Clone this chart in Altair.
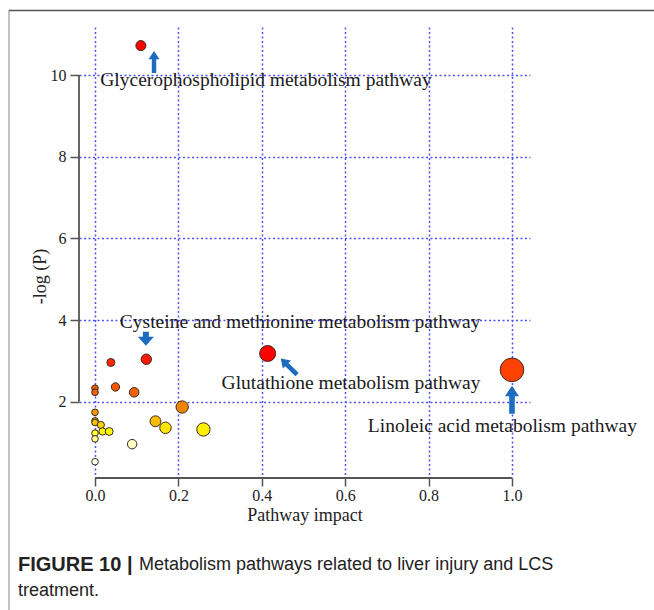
import altair as alt
import pandas as pd

# ---- data ----
impact = [0.0, 0.0, 0.0, 0.0, 0.0, 0.0, 0.0, 0.0, 0.014, 0.018, 0.034, 0.038,
          0.049, 0.094, 0.089, 0.123, 0.145, 0.169, 0.209, 0.260, 0.414, 1.0, 0.110]
neglogp = [2.33, 2.23, 1.74, 1.53, 1.49, 1.23, 1.09, 0.53, 1.43, 1.27, 1.27, 2.96,
           2.36, 2.23, 0.96, 3.04, 1.52, 1.36, 1.87, 1.32, 3.18, 2.78, 10.72]

x_ticks = [0.0, 0.2, 0.4, 0.6, 0.8, 1.0]
y_ticks = [2, 4, 6, 8, 10]

labels = ["Glycerophospholipid metabolism pathway",
          "Cysteine and methionine metabolism pathway",
          "Glutathione metabolism pathway",
          "Linoleic acid metabolism pathway"]
label_x = [0.410, 0.492, 0.614, 0.977]
label_y = [9.88, 3.96, 2.46, 1.40]

# arrow anchor points (data coordinates): glycero, cysteine, glutathione, linoleic
arrow_x = [0.1415, 0.122, 0.465, 1.0]
arrow_y = [10.32, 3.54, 2.86, 2.05]

caption_bold = "FIGURE 10 |"
caption_line1 = "Metabolism pathways related to liver injury and LCS"
caption_line2 = "treatment."

x_title = "Pathway impact"
y_title = "-log (P)"

# ---- chart ----
W, H = 451, 451
xs = alt.Scale(domain=[-0.0384, 1.0432], nice=False, zero=False)
ys = alt.Scale(domain=[0.131, 11.176], nice=False, zero=False)

SERIF = "Liberation Serif"
SANS = "Liberation Sans"
BLUE = "#1d6cc0"

points_df = pd.DataFrame({"impact": impact, "neglogp": neglogp})

base_x = alt.X("impact:Q", scale=xs, title=x_title,
               axis=alt.Axis(values=x_ticks, format=".1f", domain=False, grid=True,
                             gridColor="#4f4fff", gridDash=[2, 2.5], gridWidth=1.5,
                             tickColor="#555", tickSize=8, tickWidth=1.5,
                             labelFont=SERIF, labelFontSize=16, labelColor="#222",
                             labelPadding=1, titleFont=SERIF, titleFontSize=18,
                             titleFontWeight="normal", titleColor="#222",
                             titleBaseline="middle", titleY=37))
base_y = alt.Y("neglogp:Q", scale=ys, title=y_title,
               axis=alt.Axis(values=y_ticks, format="d", domain=False, grid=True,
                             gridColor="#4f4fff", gridDash=[2, 2.5], gridWidth=1.5,
                             tickColor="#555", tickSize=9, tickWidth=1.5,
                             labelFont=SERIF, labelFontSize=16, labelColor="#222",
                             labelPadding=4, titleFont=SERIF, titleFontSize=18,
                             titleFontWeight="normal", titleColor="#222",
                             titleAngle=270, titleAlign="center", titleBaseline="middle",
                             titleX=-39, titleY=249))

points = alt.Chart(points_df).mark_circle(
    opacity=1, stroke="#3a2a20", strokeWidth=1
).encode(
    x=base_x,
    y=base_y,
    size=alt.Size("impact:Q", scale=alt.Scale(domain=[0, 1], range=[44, 557]), legend=None),
    color=alt.Color("neglogp:Q",
                    scale=alt.Scale(domain=[0.5, 1.0, 1.26, 1.55, 1.9, 2.3, 2.8, 3.1],
                                    range=["#fffff4", "#ffffc0", "#ffff00", "#f5b400",
                                           "#f08000", "#f05a00", "#ff4000", "#ff0000"],
                                    clamp=True),
                    legend=None),
)

# axis lines limited to the tick range
xline = alt.Chart(pd.DataFrame({"a": [x_ticks[0]], "b": [x_ticks[-1]]})).mark_rule(
    color="#555", strokeWidth=1.8
).encode(x=alt.X("a:Q", scale=xs), x2="b:Q", y=alt.value(H))
yline = alt.Chart(pd.DataFrame({"a": [y_ticks[0]], "b": [y_ticks[-1]]})).mark_rule(
    color="#555", strokeWidth=1.8
).encode(y=alt.Y("a:Q", scale=ys), y2="b:Q", x=alt.value(0))

texts = alt.Chart(pd.DataFrame({"label": labels, "lx": label_x, "ly": label_y})).mark_text(
    font=SERIF, fontSize=19.5, color="#1a1a1a", align="center", baseline="middle"
).encode(x=alt.X("lx:Q", scale=xs), y=alt.Y("ly:Q", scale=ys), text="label:N")

UP = "M0,-1L0.5,-0.25L0.2,-0.25L0.2,1L-0.2,1L-0.2,-0.25L-0.5,-0.25Z"
STUB = "M0,-0.875L1,0.25L0.375,0.25L0.375,0.875L-0.375,0.875L-0.375,0.25L-1,0.25Z"


def arrow(i, shape, size, angle):
    df = pd.DataFrame({"ax": [arrow_x[i]], "ay": [arrow_y[i]]})
    kw = dict(shape=shape, size=size, filled=True, color=BLUE, opacity=1, strokeWidth=0)
    if angle:
        kw["angle"] = angle
    return alt.Chart(df).mark_point(**kw).encode(
        x=alt.X("ax:Q", scale=xs), y=alt.Y("ay:Q", scale=ys))


arrows = [arrow(0, UP, 484, 0), arrow(1, STUB, 256, 180),
          arrow(2, UP, 530, 315), arrow(3, UP, 784, 0)]

# figure frame and caption
frame_left = alt.Chart(pd.DataFrame({"k": [0]})).mark_rule(color="#888", strokeWidth=1).encode(
    x=alt.value(-70), y=alt.value(-17), y2=alt.value(583))
frame_top = alt.Chart(pd.DataFrame({"k": [0]})).mark_rule(color="#555", strokeWidth=1.5).encode(
    y=alt.value(-16.5), x=alt.value(-70), x2=alt.value(575))

cap_bold = alt.Chart(pd.DataFrame({"t": [caption_bold]})).mark_text(
    font=SANS, fontSize=20, fontWeight="bold", color="#222", align="left", baseline="middle"
).encode(x=alt.value(-61), y=alt.value(538), text="t:N")
cap_1 = alt.Chart(pd.DataFrame({"t": [caption_line1]})).mark_text(
    font=SANS, fontSize=18, color="#222", align="left", baseline="middle"
).encode(x=alt.value(60), y=alt.value(538), text="t:N")
cap_2 = alt.Chart(pd.DataFrame({"t": [caption_line2]})).mark_text(
    font=SANS, fontSize=18, color="#222", align="left", baseline="middle"
).encode(x=alt.value(-61), y=alt.value(564), text="t:N")

chart = alt.layer(
    points, xline, yline, texts, *arrows, frame_left, frame_top, cap_bold, cap_1, cap_2
).properties(
    width=W, height=H,
    autosize=alt.AutoSizeParams(type="none"),
    padding={"left": 79, "top": 27, "right": 124, "bottom": 132},
    background="white",
).configure_view(stroke=None)

chart.save("out.html", embed_options={"renderer": "svg", "actions": False})
